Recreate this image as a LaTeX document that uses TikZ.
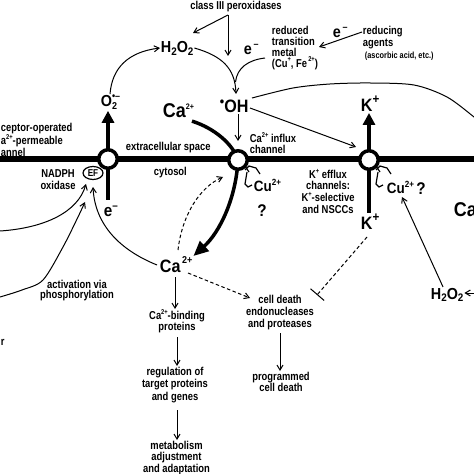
\documentclass[tikz,border=0pt]{standalone}
\usepackage{fontspec}
\setmainfont{Liberation Sans}[FakeStretch=0.82]
\newfontfamily\chemfam{Liberation Sans}[FakeStretch=0.9]
\usetikzlibrary{arrows.meta}

\newcommand\lblfont{\fontsize{11.5}{11.7}\selectfont\bfseries}
\newcommand\tinyfont{\fontsize{9}{9}\selectfont\bfseries}
\newcommand\chemfont{\chemfam\bfseries\fontsize{18}{18}\selectfont}
\newcommand\upidx[2]{\raisebox{.45em}{\fontsize{#1}{#1}\selectfont #2}}
\newcommand\loidx[2]{\raisebox{-.18em}{\fontsize{#1}{#1}\selectfont #2}}

\tikzset{
  lbl/.style={font=\lblfont, inner sep=0.75pt, align=center},
  chem/.style={font=\chemfont, inner sep=0.75pt},
  chan/.style={circle, draw, fill=white, line width=3.5bp, minimum size=18.5bp, inner sep=0pt},
  memb/.style={line width=6bp},
  stem/.style={line width=4bp},
  arr/.style={line width=1bp, -{Straight Barb[length=5bp,width=6bp]}},
  bigarr/.style={line width=4bp, -{Triangle[length=12bp,width=12bp]}},
  dasharr/.style={arr, dash pattern={on 3.5bp off 2.5bp}},
  claw/.style={line width=1.2bp, line join=miter},
}

\begin{document}
\begin{tikzpicture}[x=1bp,y=1bp,yscale=-1,xscale=1]
\useasboundingbox (0,0) rectangle (474,474);
\clip (0,0) rectangle (474,474);

% Text Node
\draw (236,10) node [lbl, anchor=base] (perox) {class III peroxidases};
% Text Node
\draw (160,53) node [chem, anchor=base west, font=\chemfam\bfseries\fontsize{16}{16}\selectfont] (h2o2) {H\loidx{11}{2}O\loidx{11}{2}};
% Text Node
\draw (243,55) node [chem, anchor=base west, font=\chemfam\bfseries\fontsize{16}{16}\selectfont] (emetal) {e\upidx{10}{\,–}};
% Text Node
\draw (271,25) node [lbl, anchor=north west, align=left, font=\fontsize{11.5}{11}\selectfont\bfseries] (metal) {reduced\\transition\\metal\\(Cu\upidx{7}{+}, Fe\upidx{7}{\,2+})};
% Text Node
\draw (332,38) node [chem, anchor=base west, font=\chemfam\bfseries\fontsize{16}{16}\selectfont] (eagent) {e\upidx{10}{\,–}};
% Text Node
\draw (362,25) node [lbl, anchor=north west, align=left, font=\fontsize{11.5}{12}\selectfont\bfseries] (agents) {reducing\\agents};
% Text Node
\draw (364,59) node [anchor=base west, inner sep=0.75pt, font=\tinyfont] (ascorb) {(ascorbic acid, etc.)};
% Text Node
\draw (100,107) node [chem, anchor=base west, font=\chemfam\bfseries\fontsize{16}{16}\selectfont] (o2) {O\rlap{\loidx{10}{2}}\upidx{10}{•–}};
% Text Node
\draw (219,113) node [chem, anchor=base west] (oh) {\raisebox{.38em}{\fontsize{14}{14}\selectfont •}OH};
% Text Node
\draw (162,118) node [chem, anchor=base west, font=\chemfam\bfseries\fontsize{20}{20}\selectfont] (caout) {Ca\upidx{8}{2+}};
% Text Node
\draw (360,112) node [chem, anchor=base west] (kout) {K\upidx{13}{+}};
% Text Node
\draw (0,122) node [lbl, anchor=north west, align=left, font=\fontsize{11.5}{9.8}\selectfont\bfseries] (roc) {ceptor-operated\\a\upidx{7}{2+}-permeable\\annel};
% Text Node
\draw (125,151) node [lbl, anchor=base west] (extra) {extracellular space};
% Text Node
\draw (153,176) node [lbl, anchor=base west] (cyto) {cytosol};
% Text Node
\draw (249,132) node [lbl, anchor=north west, align=left, font=\fontsize{11.5}{11}\selectfont\bfseries] (cainflux) {Ca\upidx{7}{2+} influx\\channel};
% Text Node
\draw (58,169) node [lbl, anchor=north, font=\fontsize{11.5}{12}\selectfont\bfseries] (nadph) {NADPH\\oxidase};
% Text Node
\draw (328,168) node [lbl, anchor=north] (keff) {K\upidx{7}{+} efflux\\channels:\\K\upidx{7}{+}-selective\\and NSCCs};
% Text Node
\draw (103,217) node [chem, anchor=base west, font=\chemfam\bfseries\fontsize{17}{17}\selectfont] (enox) {e\upidx{11}{–}};
% Text Node
\draw (360,230) node [chem, anchor=base west] (kin) {K\upidx{13}{+}};
% Text Node
\draw (253,192) node [chem, anchor=base west, font=\chemfam\bfseries\fontsize{15}{15}\selectfont] (cuca) {Cu\upidx{9}{2+}};
% Text Node
\draw (262,211) node [chem, font=\chemfam\bfseries\fontsize{17}{17}\selectfont] (qca) {?};
% Text Node
\draw (386,194) node [chem, anchor=base west, font=\chemfam\bfseries\fontsize{15}{15}\selectfont] (cuk) {Cu\upidx{9}{2+}};
% Text Node
\draw (421,189) node [chem, font=\chemfam\bfseries\fontsize{17}{17}\selectfont] (qk) {?};
% Text Node
\draw (453,217) node [chem, anchor=base west, font=\chemfam\bfseries\fontsize{20}{20}\selectfont] (caright) {Ca};
% Text Node
\draw (159,272) node [chem, anchor=base west] (cain) {Ca\upidx{10}{\,2+}};
% Text Node
\draw (77,279) node [lbl, anchor=north, font=\fontsize{11.5}{10.5}\selectfont\bfseries] (phos) {activation via\\phosphorylation};
% Text Node
\draw (430,299) node [chem, anchor=base west, font=\chemfam\bfseries\fontsize{16}{16}\selectfont] (h2o2in) {H\loidx{11}{2}O\loidx{11}{2}};
% Text Node
\draw (177,309) node [lbl, anchor=north, font=\fontsize{11.5}{11}\selectfont\bfseries] (cabind) {Ca\upidx{7}{2+}-binding\\proteins};
% Text Node
\draw (280,294) node [lbl, anchor=north, font=\fontsize{11.5}{12}\selectfont\bfseries] (death) {cell death\\endonucleases\\and proteases};
% Text Node
\draw (175,366) node [lbl, anchor=north, font=\fontsize{11.5}{12.5}\selectfont\bfseries] (regul) {regulation of\\target proteins\\and genes};
% Text Node
\draw (281,371) node [lbl, anchor=north, font=\fontsize{11.5}{11.5}\selectfont\bfseries] (pcd) {programmed\\cell death};
% Text Node
\draw (176.5,440) node [lbl, anchor=north, font=\fontsize{11.5}{11.5}\selectfont\bfseries] (metab) {metabolism\\adjustment\\and adaptation};
% Text Node
\draw (0,345) node [lbl, anchor=base west] (rfrag) {r};

%Curve: OH to the right
\draw [line width=1bp] plot [smooth] coordinates {(252,98) (293,88) (330,84) (370,83) (414,85) (447,97) (474,117) (482,124)};

%Straight Lines: membrane
\draw [memb] (0,159) -- (474,159);

\coordinate (noxc) at (108,159);
\coordinate (cac) at (238,160);
\coordinate (kc) at (369,160);

%Curve: Ca2+ influx (thick)
\draw [line width=3.5bp, -{Triangle[length=15bp,width=13bp]}] ([xshift=-3bp,yshift=2bp]caout.south east) .. controls (214,128) and (233,144) .. (cac) .. controls (236,198) and (220,232) .. (cain.north east);

%Stems
\draw [bigarr] (noxc) -- (o2.south -| noxc);
\draw [stem] (noxc) -- (108,200);
\draw [bigarr] (kc) -- (kout.south -| kc);
\draw [stem] (kc) -- (kin.north -| kc);

%Shape: Cu binding sites
\foreach \c in {cac,kc}{
  \begin{scope}[shift={(\c)}]
    \draw [claw] (5,3) -- (11,12);
    \draw [claw] (7,10) -- (11,6) -- (18,8) -- (22,14);
    \draw [claw] (9,12) -- (7,24) -- (10,27) -- (14,25);
  \end{scope}
}

%Shape: channels
\node [chan] (nox) at (noxc) {};
\node [chan] (cach) at (cac) {};
\node [chan] (kch) at (kc) {};

%Shape: EF ellipse
\draw [line width=1.2bp, fill=white] (93,173) ellipse [x radius=10bp, y radius=6.5bp];
\draw (93,173) node [inner sep=0pt, font=\fontsize{10}{10}\selectfont\bfseries] (ef) {EF};

%Straight Lines: class III peroxidases
\coordinate (psrc) at (228,15);
\draw [arr] (psrc) -- (193,33);
\draw [arr] (psrc) -- (228,56);
%Curve: O2 to H2O2
\draw [arr] (o2.north -| 110,0) .. controls (112,68) and (128,52) .. (h2o2.west |- 0,48);
%Curve: H2O2 to OH
\draw [arr] (h2o2.east |- 0,48) .. controls (222,56) and (235,68) .. (236,94);
\draw [line width=1bp] (265,58) .. controls (248,60) and (237,68) .. (235.5,82);
%Straight Lines: reducing agents
\draw [arr] (agents.west |- 0,32) -- (319,47);
%Straight Lines: OH to channels
\draw [arr] (oh.south -| cac) -- (238,141);
\draw [arr] (250,108) -- (356,147);

%Curves to NADPH oxidase
\draw [arr] (0,231) .. controls (45,228) and (78,212) .. (86,184);
\draw [arr] plot [smooth] coordinates {(0,297) (22,290) (43,280) (63,247) (78,217) (85,202)};
\draw [arr] (157,265) .. controls (120,250) and (95,225) .. (93,187);

%Dashed: Ca2+ release
\draw [dasharr] (178,250) .. controls (182,215) and (200,187) .. (223,177);

%Straight Lines: signalling
\draw [arr] (175,277) -- (cabind.north -| 175,0);
\draw [arr] (177,337) -- (regul.north -| 177,0);
\draw [arr] (177,410) -- (metab.north -| 177,0);
\draw [dasharr] (188,273) -- (250,298);
\draw [arr] (280,333) -- (pcd.north -| 280,0);
\draw [line width=1bp, dash pattern={on 3.5bp off 2.5bp}, -{Bar[width=18bp,line width=1bp]}] (367,237) -- (317,295);
\draw [arr] (h2o2in.north -| 443,0) -- (402,197);
\draw [arr] (480,293) -- (h2o2in.east |- 0,293);

\end{tikzpicture}
\end{document}
